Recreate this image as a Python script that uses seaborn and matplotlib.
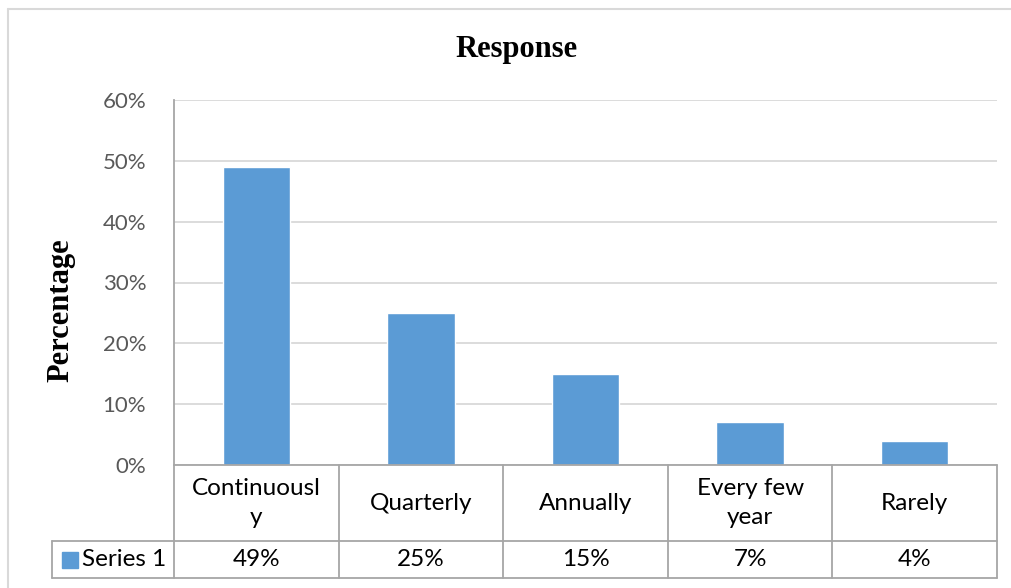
import matplotlib
matplotlib.use("Agg")
import matplotlib.pyplot as plt
import matplotlib.transforms as mtransforms
from matplotlib.lines import Line2D
from matplotlib.ticker import PercentFormatter
import seaborn as sns
import pandas as pd

# data
categories = ["Continuously", "Quarterly", "Annually", "Every few year", "Rarely"]
table_labels = ["Continuousl\ny", "Quarterly", "Annually", "Every few\nyear", "Rarely"]
values = [0.49, 0.25, 0.15, 0.07, 0.04]
series_name = "Series 1"
y_ticks = [0, 0.1, 0.2, 0.3, 0.4, 0.5, 0.6]

bar_color = "#5B9BD5"
line_color = "#A6A6A6"

sns.set_theme(style="white")
plt.rcParams['font.family'] = ['Lato', 'DejaVu Sans']

W, H = 1012, 588
fig = plt.figure(figsize=(W / 100, H / 100), dpi=100)

def fx(px):
    return px / W

def fy(py):
    return 1 - py / H

# plot area
ax = fig.add_axes([fx(174), fy(465), fx(997) - fx(174), fy(100) - fy(465)])
df = pd.DataFrame({"cat": categories, "val": values})
sns.barplot(data=df, x="cat", y="val", color=bar_color, width=0.41,
            saturation=1, ax=ax)
ax.set_xlim(-0.5, len(categories) - 0.5)
ax.set_ylim(0, 0.6)
ax.set_yticks(y_ticks)
ax.yaxis.set_major_formatter(PercentFormatter(1, decimals=0))
ax.tick_params(axis='y', length=0, pad=20, labelsize=16, labelcolor='#595959')
ax.set_xticks([])
ax.set_xlabel("")
ax.set_ylabel("")
ax.grid(axis='y', color='#D9D9D9', lw=1.3)
ax.set_axisbelow(True)
for s in ['top', 'right', 'bottom']:
    ax.spines[s].set_visible(False)
ax.spines['left'].set_color(line_color)
ax.spines['left'].set_linewidth(1.3)

# data table under the axis (x in category units, y in axes fraction)
tr = mtransforms.blended_transform_factory(ax.transData, ax.transAxes)
col_px = 823 / len(categories)
r1 = -(541 - 465) / 365
r2 = -(578 - 465) / 365
xl = -0.5 - (174 - 52) / col_px
xr = len(categories) - 0.5

def tline(xs, ys):
    ax.add_line(Line2D(xs, ys, transform=tr, color=line_color, lw=1.3,
                       clip_on=False))

tline([-0.5, xr], [0, 0])
tline([xl, xr], [r1, r1])
tline([xl, xr], [r2, r2])
for i in range(len(categories) + 1):
    tline([i - 0.5, i - 0.5], [r2, 0])
tline([xl, xl], [r1, r2])

for i, (lab, v) in enumerate(zip(table_labels, values)):
    ax.text(i, r1 / 2, lab, transform=tr, ha='center', va='center',
            fontsize=17.5, color='black', linespacing=1.45)
    ax.text(i, (r1 + r2) / 2, f"{v:.0%}", transform=tr, ha='center',
            va='center', fontsize=17.5, color='black')

ax.plot([xl + (69.5 - 52) / col_px], [(r1 + r2) / 2], marker='s',
        markersize=11, color=bar_color, transform=tr, clip_on=False)
ax.text(xl + (82 - 52) / col_px, (r1 + r2) / 2, series_name, transform=tr,
        ha='left', va='center', fontsize=17.5, color='black')

# titles
fig.text(fx(517), fy(50), "Response", ha='center', va='center', fontsize=22,
         fontweight='bold', family='Liberation Serif', color='black')
fig.text(fx(61), fy(310), "Percentage", ha='center', va='center', fontsize=22,
         fontweight='bold', family='Liberation Serif', rotation=90,
         color='black')

# chart frame (only top and left edges visible)
fig.add_artist(Line2D([fx(8), 1], [fy(9), fy(9)], color='#D9D9D9', lw=1.5))
fig.add_artist(Line2D([fx(8), fx(8)], [fy(9), 0], color='#D9D9D9', lw=1.5))

fig.savefig("out.png", dpi=100)
